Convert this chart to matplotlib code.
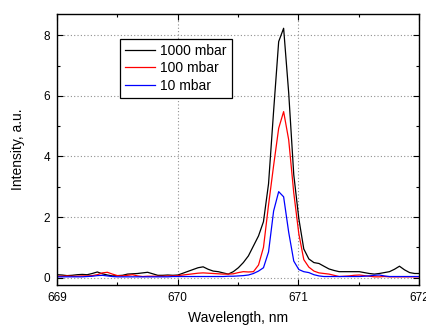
import matplotlib
matplotlib.use("Agg")
import matplotlib.pyplot as plt
from matplotlib.ticker import MultipleLocator

plt.rcParams['font.family'] = ['Liberation Sans', 'DejaVu Sans']

wavelength = [669.000, 669.042, 669.083, 669.125, 669.167, 669.209, 669.250, 669.292,
              669.334, 669.376, 669.417, 669.459, 669.501, 669.543, 669.584, 669.626,
              669.668, 669.710, 669.751, 669.793, 669.835, 669.877, 669.918, 669.960,
              670.002, 670.044, 670.085, 670.127, 670.169, 670.211, 670.252, 670.294,
              670.336, 670.377, 670.419, 670.461, 670.503, 670.544, 670.586, 670.628,
              670.670, 670.711, 670.753, 670.795, 670.837, 670.878, 670.920, 670.962,
              671.004, 671.045, 671.087, 671.129, 671.171, 671.212, 671.254, 671.296,
              671.338, 671.379, 671.421, 671.463, 671.505, 671.546, 671.588, 671.630,
              671.671, 671.713, 671.755, 671.797, 671.838, 671.880, 671.922, 671.964,
              672.005]

i_1000 = [0.10, 0.09, 0.07, 0.08, 0.10, 0.11, 0.10, 0.14,
          0.19, 0.13, 0.09, 0.06, 0.07, 0.08, 0.12, 0.13,
          0.14, 0.16, 0.18, 0.13, 0.08, 0.08, 0.09, 0.08,
          0.09, 0.15, 0.21, 0.27, 0.33, 0.36, 0.28, 0.22,
          0.20, 0.16, 0.12, 0.20, 0.33, 0.50, 0.72, 1.05,
          1.38, 1.85, 3.10, 5.50, 7.79, 8.23, 6.10, 3.40,
          1.95, 0.95, 0.62, 0.50, 0.47, 0.38, 0.29, 0.24,
          0.20, 0.20, 0.20, 0.20, 0.20, 0.17, 0.14, 0.12,
          0.14, 0.17, 0.20, 0.28, 0.38, 0.26, 0.17, 0.14,
          0.14]

i_100 = [0.05, 0.05, 0.06, 0.05, 0.05, 0.06, 0.06, 0.07,
         0.10, 0.16, 0.18, 0.12, 0.07, 0.06, 0.08, 0.10,
         0.06, 0.04, 0.05, 0.05, 0.05, 0.05, 0.06, 0.06,
         0.07, 0.09, 0.11, 0.13, 0.15, 0.16, 0.15, 0.14,
         0.13, 0.12, 0.12, 0.13, 0.17, 0.20, 0.19, 0.20,
         0.42, 1.00, 2.40, 3.70, 4.93, 5.48, 4.55, 2.80,
         1.45, 0.60, 0.35, 0.22, 0.16, 0.14, 0.12, 0.08,
         0.04, 0.05, 0.06, 0.08, 0.09, 0.07, 0.05, 0.03,
         0.03, 0.04, 0.03, 0.03, 0.03, 0.03, 0.03, 0.03,
         0.03]

i_10 = [0.03, 0.03, 0.03, 0.03, 0.03, 0.03, 0.04, 0.05,
        0.07, 0.08, 0.06, 0.04, 0.03, 0.03, 0.03, 0.03,
        0.03, 0.03, 0.03, 0.03, 0.03, 0.03, 0.03, 0.04,
        0.04, 0.04, 0.04, 0.04, 0.04, 0.04, 0.04, 0.04,
        0.04, 0.04, 0.05, 0.05, 0.06, 0.07, 0.09, 0.14,
        0.22, 0.33, 0.85, 2.20, 2.84, 2.67, 1.50, 0.55,
        0.27, 0.20, 0.17, 0.10, 0.06, 0.04, 0.04, 0.04,
        0.04, 0.04, 0.04, 0.04, 0.04, 0.05, 0.06, 0.08,
        0.09, 0.06, 0.04, 0.04, 0.04, 0.04, 0.04, 0.04,
        0.04]

labels = ["1000 mbar", "100 mbar", "10 mbar"]
colors = ["black", "#ff0000", "#0000ff"]

fig = plt.figure(figsize=(4.27, 3.26), dpi=100)
ax = fig.add_axes([0.1335, 0.1248, 0.8478, 0.8322])

for ys, lab, c in zip([i_1000, i_100, i_10], labels, colors):
    ax.plot(wavelength, ys, color=c, lw=0.9, label=lab)

ax.set_xlim(669, 672)
ax.set_ylim(-0.25, 8.7)
ax.xaxis.set_major_locator(MultipleLocator(1))
ax.xaxis.set_minor_locator(MultipleLocator(0.5))
ax.yaxis.set_major_locator(MultipleLocator(2))
ax.yaxis.set_minor_locator(MultipleLocator(1))
ax.tick_params(which='both', direction='in', top=True, right=True, labelsize=8.5,
               width=0.8, pad=5)
ax.tick_params(which='major', length=4)
ax.tick_params(which='minor', length=2.5)
ax.grid(True, which='major', color='#909090', linestyle=(0, (1, 2)), linewidth=0.8)
for s in ax.spines.values():
    s.set_linewidth(1.0)

ax.set_xlabel("Wavelength, nm", fontsize=10, labelpad=5)
ax.set_ylabel("Intensity, a.u.", fontsize=10, labelpad=13)

leg = ax.legend(loc='upper left', bbox_to_anchor=(0.174, 0.908), fontsize=10,
                fancybox=False, frameon=True, edgecolor='black', framealpha=1,
                handlelength=2.2, handletextpad=0.36, borderpad=0.35,
                labelspacing=0.25, borderaxespad=0)
leg.get_frame().set_linewidth(0.9)

fig.savefig("out.png", dpi=100)
